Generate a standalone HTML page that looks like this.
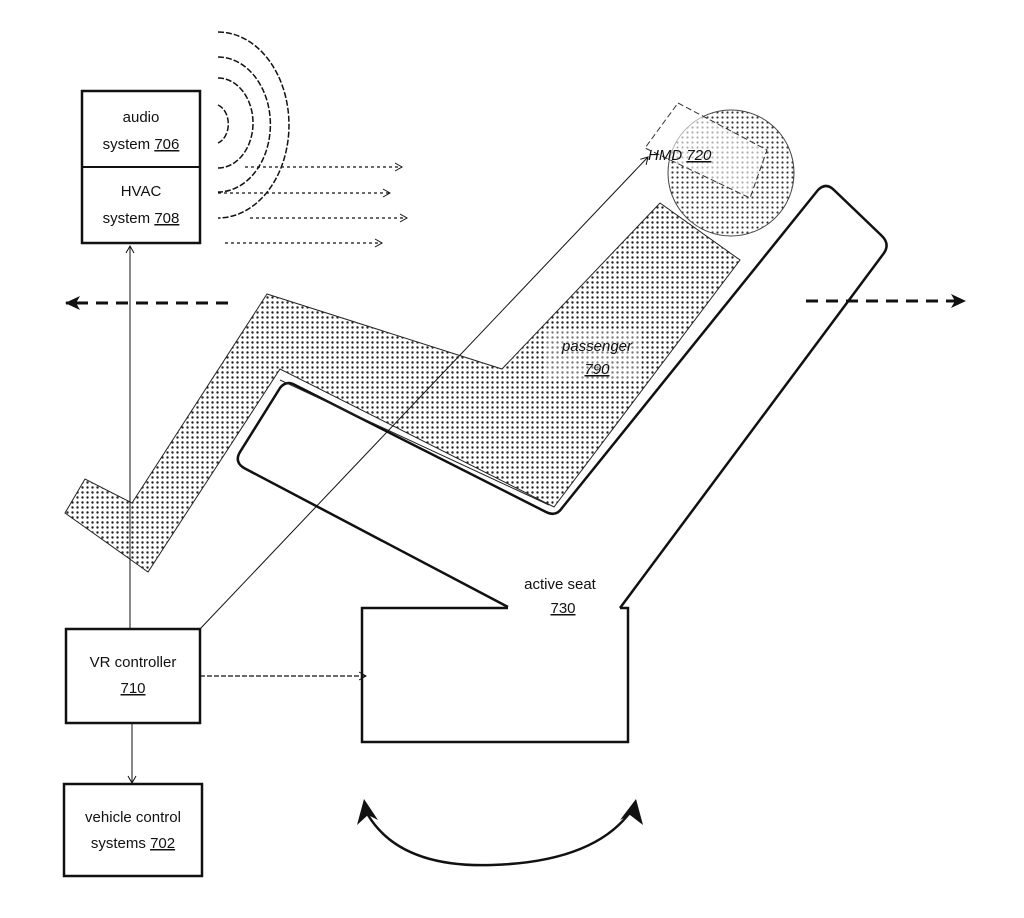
<!DOCTYPE html>
<html><head><meta charset="utf-8"><style>
html,body{margin:0;padding:0;background:#fff;}
svg{display:block;}
text{font-family:"Liberation Sans",sans-serif;font-size:15px;fill:#111;}
</style></head><body>
<svg width="1024" height="918" viewBox="0 0 1024 918" xmlns="http://www.w3.org/2000/svg">
<defs>
<pattern id="dots" width="5" height="5" patternUnits="userSpaceOnUse">
<circle cx="2.5" cy="2.5" r="1.2" fill="#222"/>
</pattern>
<pattern id="dots2" width="5" height="5" patternUnits="userSpaceOnUse">
<circle cx="2.5" cy="2.5" r="1.1" fill="#333"/>
</pattern>
<marker id="open" markerWidth="10" markerHeight="10" refX="8" refY="5" orient="auto" markerUnits="userSpaceOnUse">
<path d="M1,1 L8,5 L1,9" fill="none" stroke="#111" stroke-width="1"/>
</marker>
<marker id="fill" markerWidth="16" markerHeight="14" refX="14" refY="7" orient="auto" markerUnits="userSpaceOnUse">
<path d="M0,0 L15,7 L0,14 L4,7 Z" fill="#111"/>
</marker>
</defs>

<!-- sound arcs -->
<g fill="none" stroke="#111" stroke-width="1.5" stroke-dasharray="6,2">
<path d="M218,105 A15,20 0 0 1 218,143"/>
<path d="M218,78 A35,45 0 0 1 218,168"/>
<path d="M218,57 A52,67 0 0 1 218,192"/>
<path d="M218,32 A71,93 0 0 1 218,218"/>
</g>
<!-- dotted arrows -->
<g stroke="#111" stroke-width="1.2" stroke-dasharray="3,3" marker-end="url(#open)">
<line x1="245" y1="167" x2="402" y2="167"/>
<line x1="218" y1="193" x2="390" y2="193"/>
<line x1="250" y1="218" x2="407" y2="218"/>
<line x1="225" y1="243" x2="382" y2="243"/>
</g>

<!-- audio / HVAC -->
<rect x="82" y="91" width="118" height="152" fill="#fff" stroke="#111" stroke-width="2.5"/>
<line x1="82" y1="167" x2="200" y2="167" stroke="#111" stroke-width="2"/>
<text x="141" y="122" text-anchor="middle">audio</text>
<text x="141" y="149" text-anchor="middle">system <tspan text-decoration="underline">706</tspan></text>
<text x="141" y="196" text-anchor="middle">HVAC</text>
<text x="141" y="223" text-anchor="middle">system <tspan text-decoration="underline">708</tspan></text>

<!-- dashed horizontal arrows -->
<line x1="228" y1="303" x2="66" y2="303" stroke="#111" stroke-width="3" stroke-dasharray="12,8" marker-end="url(#fill)"/>
<line x1="806" y1="301" x2="965" y2="301" stroke="#111" stroke-width="3" stroke-dasharray="12,8" marker-end="url(#fill)"/>

<!-- passenger -->
<polygon points="267,294 502,369 660,203 740,260 554,507 280,369 148,572 65,513 85,479 132,503" fill="url(#dots)" stroke="#222" stroke-width="1"/>
<circle cx="731" cy="173" r="63" fill="url(#dots2)" stroke="#444" stroke-width="1"/>
<polygon points="678,103 767,150 750,198 645,148" fill="#fff" fill-opacity="0.6" stroke="#333" stroke-width="1" stroke-dasharray="6,3"/>
<text x="648" y="160" font-style="italic">HMD <tspan text-decoration="underline">720</tspan></text>
<rect x="546" y="331" width="96" height="50" fill="#fff" fill-opacity="0.4"/>
<text x="597" y="351" text-anchor="middle" font-style="italic">passenger</text>
<text x="597" y="374" text-anchor="middle" font-style="italic" text-decoration="underline">790</text>

<!-- seat -->
<path d="M508,607 L244,468 Q234,462 240,452 L280,388 Q286,380 295,385 L546,512 Q556,517 562,508 L818,190 Q826,182 834,190 L882,236 Q890,244 884,253 L620,608" fill="none" stroke="#111" stroke-width="2.5" stroke-linejoin="round"/>
<line x1="280" y1="380" x2="549" y2="505" stroke="#222" stroke-width="1"/>
<path d="M508,608 L362,608 L362,742 L628,742 L628,608 L620,608" fill="none" stroke="#111" stroke-width="2.5"/>
<text x="560" y="589" text-anchor="middle">active seat</text>
<text x="563" y="613" text-anchor="middle" text-decoration="underline">730</text>

<!-- connectors -->
<line x1="130" y1="629" x2="130" y2="246" stroke="#111" stroke-width="1" marker-end="url(#open)"/>
<line x1="200" y1="629" x2="648" y2="157" stroke="#111" stroke-width="1" marker-end="url(#open)"/>
<line x1="200" y1="676" x2="366" y2="676" stroke="#111" stroke-width="1.2" stroke-dasharray="5,2" marker-end="url(#open)"/>
<line x1="132" y1="723" x2="132" y2="783" stroke="#111" stroke-width="1" marker-end="url(#open)"/>

<!-- VR controller -->
<rect x="66" y="629" width="134" height="94" fill="#fff" stroke="#111" stroke-width="2.5"/>
<text x="133" y="667" text-anchor="middle">VR controller</text>
<text x="133" y="693" text-anchor="middle" text-decoration="underline">710</text>

<!-- vehicle control -->
<rect x="64" y="784" width="138" height="92" fill="#fff" stroke="#111" stroke-width="2.5"/>
<text x="133" y="822" text-anchor="middle">vehicle control</text>
<text x="133" y="848" text-anchor="middle">systems <tspan text-decoration="underline">702</tspan></text>

<!-- curved double arrow -->
<path d="M368,815 Q400,868 492,865 Q590,862 628,815" fill="none" stroke="#111" stroke-width="2.5"/>
<path d="M364,799 L357,825 L368,815 L378,820 Z" fill="#111"/>
<path d="M636,799 L643,825 L630,815 L620,820 Z" fill="#111"/>
</svg>
</body></html>
